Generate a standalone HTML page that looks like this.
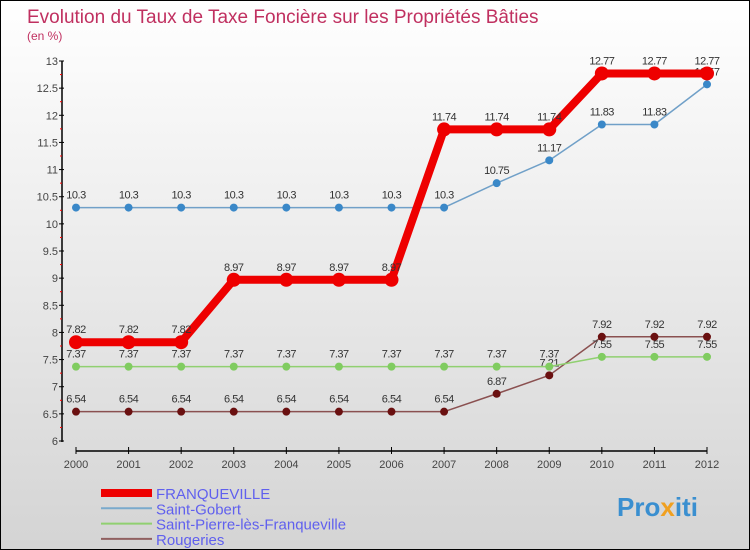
<!DOCTYPE html>
<html><head><meta charset="utf-8"><style>
body{margin:0}
#c{width:750px;height:550px;position:relative;overflow:hidden;border:1px solid #000;box-sizing:border-box;background:linear-gradient(#fff,#d4d4d4);font-family:"Liberation Sans",sans-serif}
</style></head><body>
<div id="c">
<svg width="750" height="550" id="s" style="position:absolute;left:0;top:0">
<text x="26" y="22" font-size="19" fill="#c03060">Evolution du Taux de Taxe Foncière sur les Propriétés Bâties</text>
<text x="26" y="39" font-size="12" fill="#c03060">(en %)</text>
<g id="g"></g>
<text x="616" y="515" font-size="26" font-weight="bold" fill="#3a8fd0">Pro<tspan fill="#f0a020">x</tspan>iti</text>
</svg>
</div>
<script>
const years=[2000,2001,2002,2003,2004,2005,2006,2007,2008,2009,2010,2011,2012];
const yTicks=[6,6.5,7,7.5,8,8.5,9,9.5,10,10.5,11,11.5,12,12.5,13];
const franqueville=[7.82,7.82,7.82,8.97,8.97,8.97,8.97,11.74,11.74,11.74,12.77,12.77,12.77];
const saintGobert=[10.3,10.3,10.3,10.3,10.3,10.3,10.3,10.3,10.75,11.17,11.83,11.83,12.57];
const saintPierre=[7.37,7.37,7.37,7.37,7.37,7.37,7.37,7.37,7.37,7.37,7.55,7.55,7.55];
const rougeries=[6.54,6.54,6.54,6.54,6.54,6.54,6.54,6.54,6.87,7.21,7.92,7.92,7.92];
const seriesNames=["FRANQUEVILLE","Saint-Gobert","Saint-Pierre-lès-Franqueville","Rougeries"];
const NS="http://www.w3.org/2000/svg";
const g=document.getElementById('g');
const X=i=>75+i*(706-75)/(years.length-1);
const Y=v=>440-(v-6)*(380/7);
function mk(t,a,p){const e=document.createElementNS(NS,t);for(const k in a)e.setAttribute(k,a[k]);(p||g).appendChild(e);return e;}
// axes
let e=mk('line',{x1:61,y1:60,x2:61,y2:441,stroke:'#000','stroke-width':1.5});


e=mk('line',{x1:75,y1:450,x2:706,y2:450,stroke:'#000','stroke-width':1.5});


yTicks.forEach(v=>{
 mk('line',{x1:58,x2:63,y1:Y(v),y2:Y(v),stroke:'#000'});
 const t=mk('text',{x:57,y:Y(v)+4,'font-size':11,fill:'#444','text-anchor':'end'});t.textContent=v;
 
 
 if(v<13)mk('line',{x1:59,x2:61,y1:Y(v+0.25),y2:Y(v+0.25),stroke:'#f00'});
});
years.forEach((yr,i)=>{
 mk('line',{x1:X(i),x2:X(i),y1:446,y2:453,stroke:'#000'});
 const t=mk('text',{x:X(i),y:467,'font-size':11,fill:'#444','text-anchor':'middle'});t.textContent=yr;
 
 
});
function series(data,color,w,r,dot,name){
 const p=mk('polyline',{points:data.map((v,i)=>X(i)+','+Y(v)).join(' '),fill:'none',stroke:color,'stroke-width':w,'stroke-linejoin':'round'});
 
 
 data.forEach((v,i)=>{
  const c=mk('circle',{cx:X(i),cy:Y(v),r:r,fill:dot});
  
  
  const t=mk('text',{x:X(i),y:Y(v)-9,'font-size':11,fill:'#333','text-anchor':'middle','letter-spacing':'-0.5'});t.textContent=v;
  
  
 });
}
series(rougeries,'#8a5050',1.5,4,'#6a1010','rougeries');
series(saintPierre,'#90d070',1.5,4,'#80cc60','saint-pierre');
series(saintGobert,'#70a0c8',1.5,4,'#3a88c8','saint-gobert');
series(franqueville,'#ee0000',8,7,'#ee0000','franqueville');
const legColors=['#ee0000','#7aaacc','#90d070','#906060'],legW=[8,2,2,2];
seriesNames.forEach((n,i)=>{
 const y=492+i*15.3;
 const l=mk('line',{x1:100,x2:151,y1:y,y2:y,stroke:legColors[i],'stroke-width':legW[i]});
 
 
 const t=mk('text',{x:155,y:y+6,'font-size':15,fill:'#6060ee'});t.textContent=n;
 
 
});
</script>
</body></html>
